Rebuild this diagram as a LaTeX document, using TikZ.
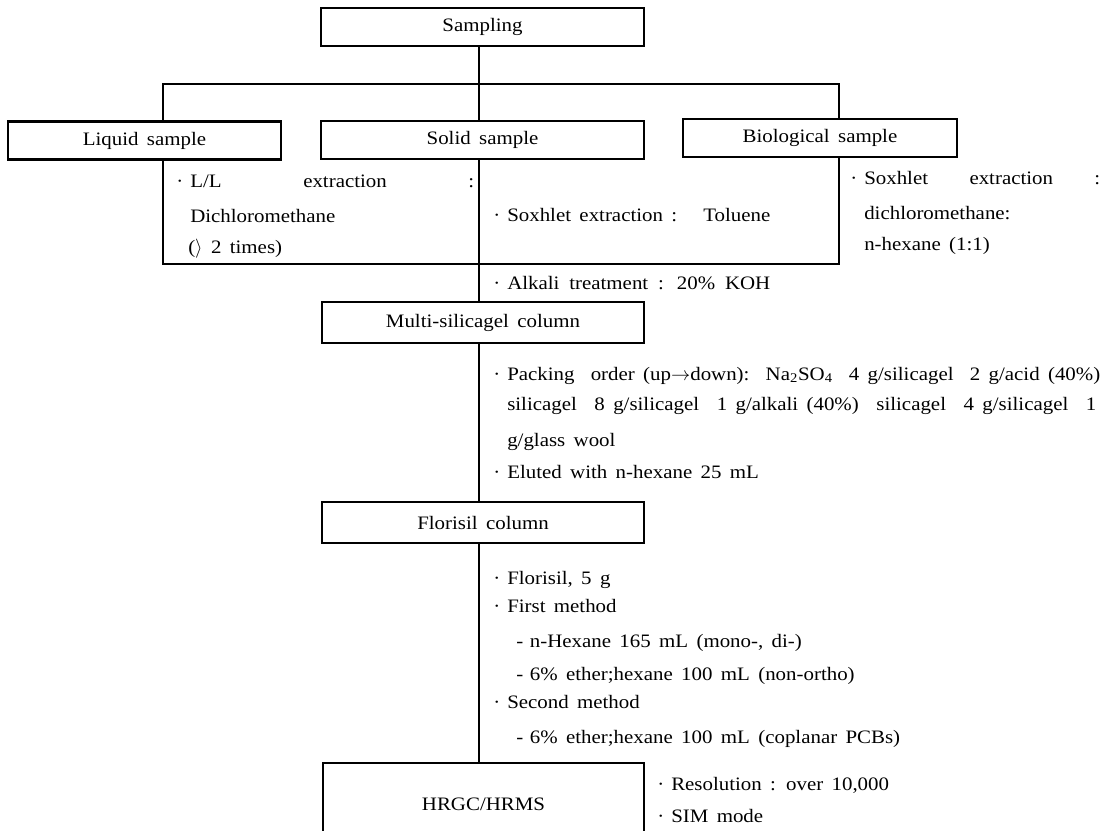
\documentclass[tikz,border=0pt]{standalone}
\usepackage{fontspec}
\setmainfont{Liberation Serif}[FakeStretch=1.1,WordSpace=1.6]
\newcommand\fsz{\fontsize{14.25pt}{17pt}\selectfont}
% bullet with a fixed gap before the item text
\newcommand\bul{\makebox[10.5pt][l]{·}}
% dash that opens a sub-item
\newcommand\subdash{-\hspace{5pt}}
\begin{document}
\begin{tikzpicture}[x=0.75pt,y=-0.75pt,
  every node/.style={font=\fsz, inner sep=0pt},
  stepbox/.style={draw, line width=1.9pt, minimum height=28.5pt},
  link/.style={line width=1.5pt},
  note/.style={anchor=base west}]

\useasboundingbox (0,0) rectangle (1111,831);
\clip (0,0) rectangle (1111,831);

% process boxes
\node[stepbox, minimum width=242.25pt] (sampling) at (482.5,27) {Sampling};
\node[stepbox, minimum width=204.75pt] (liquid) at (144.5,140.5) {Liquid sample};
\node[stepbox, minimum width=242.25pt] (solid) at (482.5,140) {Solid sample};
\node[stepbox, minimum width=205.5pt] (bio) at (820,138) {Biological sample};
\node[stepbox, minimum width=241.5pt, minimum height=30.75pt] (multi) at (483,322.5) {Multi-silicagel column};
\node[stepbox, minimum width=241.5pt, minimum height=30.75pt] (florisil) at (483,522.5) {Florisil column};
\node[stepbox, minimum width=240.75pt, minimum height=61.5pt] (hrgc) at (483.5,804) {HRGC/HRMS};

% guide points for the connectors
\coordinate (spine) at (479,0);
\coordinate (lx) at (163,84);
\coordinate (rx) at (839,84);
\coordinate (lowl) at (163,264);
\coordinate (lowr) at (839,264);

% connectors
\draw[link] (sampling.south -| spine) -- (solid.north -| spine);
\draw[link] (liquid.north -| lx) |- (rx) -- (bio.north -| rx);
\draw[link] (liquid.south -| lx) -- (lowl) -- (lowr) -- (bio.south -| rx);
\draw[link] (solid.south -| spine) -- (multi.north -| spine);
\draw[link] (multi.south -| spine) -- (florisil.north -| spine);
\draw[link] (florisil.south -| spine) -- (hrgc.north -| spine);

% extraction notes
\node[note] (ll1) at (176,188) {\hbox to 223.5pt{\bul L/L\hfill extraction\hfill :}};
\node[note] (ll2) at (190,223) {Dichloromethane};
\node[note] (ll3) at (188,253) {($\rangle$ 2 times)};

\node[note] (sx) at (493,222) {\hbox to 207.75pt{\bul Soxhlet extraction :\hfill Toluene}};

\node[note] (bx1) at (850,185) {\hbox to 187.5pt{\bul Soxhlet\hfill extraction\hfill :}};
\node[note] (bx2) at (864,220) {dichloromethane:};
\node[note] (bx3) at (864,251) {n-hexane (1:1)};

\node[note] (alk) at (493,290) {\makebox[207.75pt][s]{\bul Alkali treatment : 20\% KOH}};

% multi-silicagel column notes
\node[note] (pk1) at (493,380) {\hbox to 455.25pt{\bul Packing\hfill order (up$\rightarrow$down):\hfill Na\textsubscript{2}SO\textsubscript{4}\hfill 4 g/silicagel\hfill 2 g/acid (40\%)}};
\node[note] (pk2) at (507,410) {\hbox to 441.75pt{silicagel\hfill 8 g/silicagel\hfill 1 g/alkali (40\%)\hfill silicagel\hfill 4 g/silicagel\hfill 1}};
\node[note] (pk3) at (507,446) {g/glass wool};
\node[note] (el) at (493,478) {\bul Eluted with n-hexane 25 mL};

% florisil column notes
\node[note] (fl1) at (493,584) {\bul Florisil, 5 g};
\node[note] (fl2) at (493,612) {\bul First method};
\node[note] (fl3) at (516,647) {\subdash n-Hexane 165 mL (mono-, di-)};
\node[note] (fl4) at (516,680) {\subdash 6\% ether;hexane 100 mL (non-ortho)};
\node[note] (fl5) at (493,708) {\bul Second method};
\node[note] (fl6) at (516,743) {\subdash 6\% ether;hexane 100 mL (coplanar PCBs)};

% instrument notes
\node[note] (ms1) at (657,790) {\bul Resolution : over 10,000};
\node[note] (ms2) at (657,822) {\bul SIM mode};
\end{tikzpicture}
\end{document}
